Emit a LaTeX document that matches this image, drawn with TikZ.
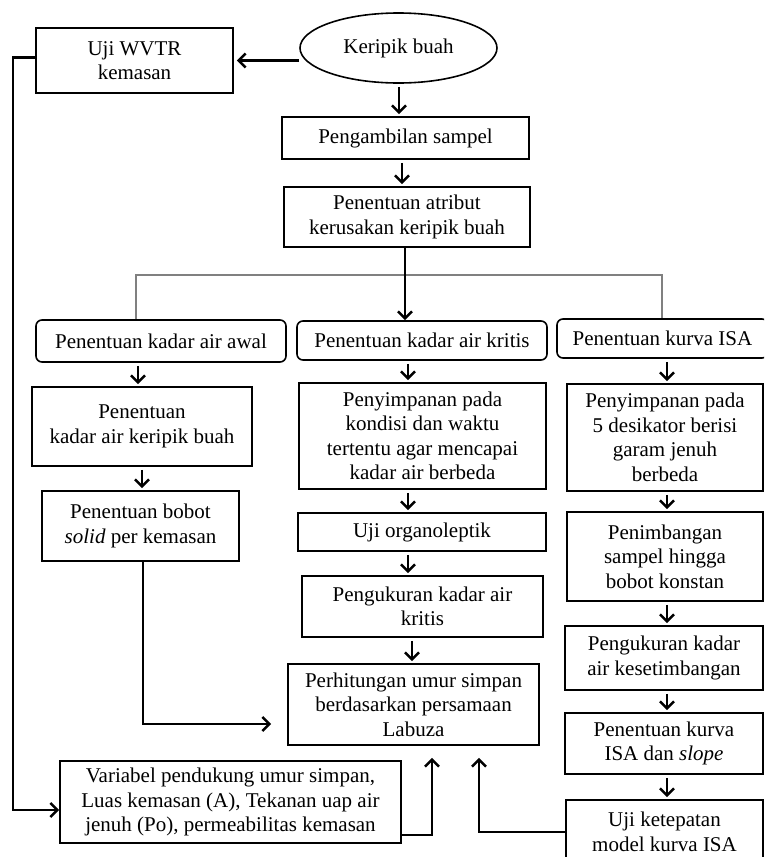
\documentclass[tikz,border=0pt]{standalone}
\usepackage{fontspec}
\setmainfont{Liberation Serif}
\usetikzlibrary{arrows.meta,shapes.geometric}
\begin{document}
\begin{tikzpicture}[x=1pt,y=-1pt,
  every node/.style={font=\fontsize{21}{24.5}\selectfont, align=center, inner sep=0pt},
  box/.style={draw, line width=1.6pt, rectangle, minimum width=#1},
  rbox/.style={draw, line width=1.6pt, rectangle, rounded corners=6pt, minimum width=#1},
  arr/.style={line width=2.6pt, -{Straight Barb[length=7pt,width=14pt]}},
  sarr/.style={arr, shorten <=3pt, shorten >=2pt},
  thin/.style={draw=black!50, line width=1.2pt}
]
\clip (0,0) rectangle (764,857);
% top
\node[ellipse, draw, line width=1.6pt, minimum width=197pt, minimum height=70pt] (kb) at (398.5,48) {\raisebox{3pt}{Keripik buah}};
\node[box=197pt, minimum height=65pt] (wvtr) at (134.5,60.5) {Uji WVTR\\kemasan};
\node[box=247pt, minimum height=42pt] (samp) at (405.5,138) {Pengambilan sampel};
\node[box=246pt, minimum height=60pt] (atr) at (407,217) {Penentuan atribut\\kerusakan keripik buah};
% rounded row
\node[rbox=250pt, minimum height=42pt] (awal) at (161,341) {Penentuan kadar air awal};
\node[rbox=250pt, minimum height=39pt] (kritis) at (422,340.5) {Penentuan kadar air kritis};
\node[rbox=211pt, minimum height=39pt] (isa) at (662.5,338.5) {Penentuan kurva ISA};
% left column
\node[box=220pt, minimum height=79pt] (kak) at (142,426.5) {Penentuan\\kadar air keripik buah};
\node[box=197pt, minimum height=70pt] (solid) at (140.5,526) {Penentuan bobot\\\textit{solid} per kemasan};
% middle column
\node[box=247pt, minimum height=106pt] (simpan) at (422.5,436) {Penyimpanan pada\\kondisi dan waktu\\tertentu agar mencapai\\kadar air berbeda};
\node[box=248pt, minimum height=38pt] (organo) at (422,532) {Uji organoleptik};
\node[box=241pt, minimum height=61pt] (ukur) at (422.5,606.5) {Pengukuran kadar air\\kritis};
\node[box=251pt, minimum height=81pt] (hitung) at (413.5,704.5) {Perhitungan umur simpan\\berdasarkan persamaan\\Labuza};
\node[box=341pt, minimum height=82pt] (var) at (230.5,802) {Variabel pendukung umur simpan,\\Luas kemasan (A), Tekanan uap air\\jenuh (Po), permeabilitas kemasan};
% right column
\node[box=196pt, minimum height=107pt] (desik) at (665,437.5) {Penyimpanan pada\\5 desikator berisi\\garam jenuh\\berbeda};
\node[box=196pt, minimum height=89pt] (timbang) at (665,556.5) {Penimbangan\\sampel hingga\\bobot konstan};
\node[box=198pt, minimum height=64pt] (seimbang) at (664,658) {Pengukuran kadar\\air kesetimbangan};
\node[box=198pt, minimum height=61pt] (slope) at (664,743.5) {Penentuan kurva\\ISA dan \textit{slope}};
\node[box=197pt, minimum height=64pt] (tepat) at (664.5,832) {Uji ketepatan\\model kurva ISA};
% column x coordinates
\coordinate (xa) at (399,0);
\coordinate (xb) at (402,0);
\coordinate (xc) at (405,0);
\coordinate (xl1) at (138,0);
\coordinate (xl2) at (142,0);
\coordinate (xl3) at (143,0);
\coordinate (xm1) at (408,0);
\coordinate (xm2) at (412,0);
\coordinate (xr) at (667,0);
\coordinate (xw) at (13,0);
\coordinate (xv) at (432,0);
\coordinate (xt) at (479,0);
\coordinate (gl) at (136,275);
\coordinate (gr) at (662,275);
% free ends / ports
\coordinate (hin) at ([xshift=-16pt,yshift=-19.5pt]hitung.west);
\coordinate (wout) at ([yshift=3pt]wvtr.west);
\coordinate (vin) at ([yshift=-8pt]var.west);
\coordinate (vout) at ([yshift=-33pt]var.east);
\coordinate (hb) at ([yshift=-12pt]hitung.south);
% connectors top
\draw[arr] (kb.west |- wvtr.east) -- ([xshift=3pt]wvtr.east);
\draw[sarr] (kb.south -| xa) -- (samp.north -| xa);
\draw[sarr] (samp.south -| xb) -- (atr.north -| xb);
\draw[thin] (awal.north -| gl) -- (gl) -- (gr) -- (isa.north -| gr);
\draw[arr] (atr.south -| xc) -- (kritis.north -| xc);
% left column
\draw[sarr] (awal.south -| xl1) -- (kak.north -| xl1);
\draw[sarr] (kak.south -| xl2) -- (solid.north -| xl2);
\draw[arr] (solid.south -| xl3) -- (xl3 |- hin) -- (hin);
% middle column
\draw[sarr] (kritis.south -| xm1) -- (simpan.north -| xm1);
\draw[sarr] (simpan.south -| xm1) -- (organo.north -| xm1);
\draw[sarr] (organo.south -| xm1) -- (ukur.north -| xm1);
\draw[sarr] (ukur.south -| xm2) -- (hitung.north -| xm2);
% right column
\draw[sarr] (isa.south -| xr) -- (desik.north -| xr);
\draw[sarr] (desik.south -| xr) -- (timbang.north -| xr);
\draw[sarr] (timbang.south -| xr) -- (seimbang.north -| xr);
\draw[sarr] (seimbang.south -| xr) -- (slope.north -| xr);
\draw[sarr] (slope.south -| xr) -- (tepat.north -| xr);
% long connectors
\draw[arr] (wout) -- (xw |- wout) -- (xw |- vin) -- (vin);
\draw[arr] (vout) -- (xv |- vout) -- (hb -| xv);
\draw[arr] (tepat.west) -- (tepat.west -| xt) -- (hb -| xt);
\end{tikzpicture}
\end{document}
